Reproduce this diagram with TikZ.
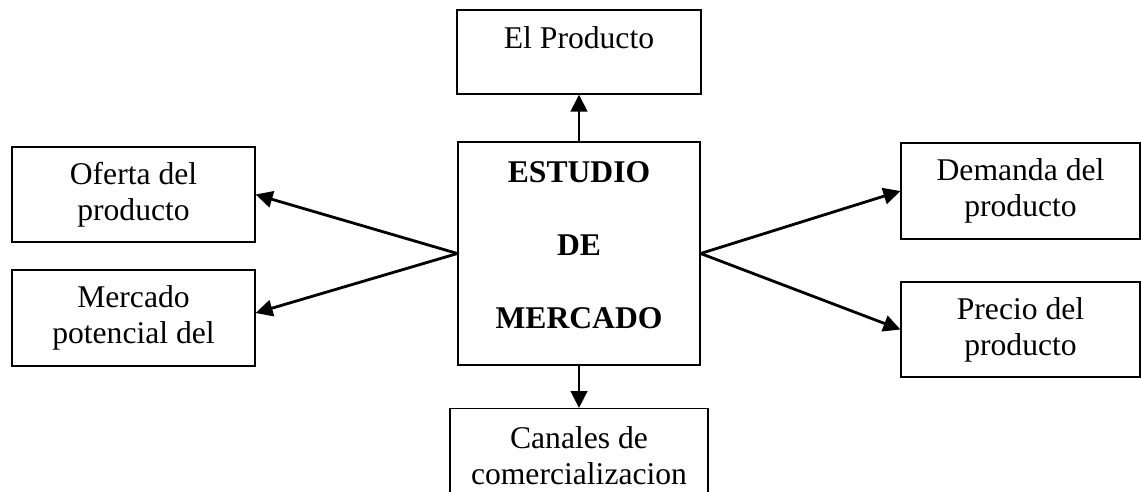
\documentclass[tikz,border=0pt]{standalone}
\usepackage{fontspec}
\setmainfont{Liberation Serif}
\usetikzlibrary{arrows.meta}
\begin{document}
\begin{tikzpicture}[x=0.02cm,y=-0.02cm,
  caja/.style={draw,line width=0.7pt,align=center,inner sep=0pt,
    font=\fontsize{18}{20.5}\selectfont},
  flecha/.style={line width=1.6pt,-{Triangle[length=0.34cm,width=0.33cm]}}]
\useasboundingbox (0,0) rectangle (1141,491);
\clip (0,0) rectangle (1141,491);
\node[caja,minimum width=4.88cm,minimum height=1.68cm,text height=0.42cm,text depth=0.58cm] (prod) at (579,52) {El Producto};
\node[caja,minimum width=4.84cm,minimum height=4.46cm] (est) at (579,253.5) {};
\node[align=center,inner sep=0pt,font=\fontsize{18}{41.5}\selectfont\bfseries] (estt) at ([yshift=0.17cm]est.center) {ESTUDIO\\DE\\MERCADO};
\node[caja,minimum width=4.86cm,minimum height=1.9cm] (ofe) at (133.5,194.5) {Oferta del\\producto};
\node[caja,minimum width=4.86cm,minimum height=1.92cm] (mer) at (133.5,318) {Mercado\\potencial del};
\node[caja,minimum width=4.78cm,minimum height=1.92cm] (dem) at (1020.5,191) {Demanda del\\producto};
\node[caja,minimum width=4.78cm,minimum height=1.9cm] (pre) at (1020.5,329.5) {Precio del\\producto};
\node[caja,minimum width=5.16cm,inner ysep=0.36cm,anchor=north] (can) at (579,408) {Canales de\\comercializacion};
\draw[flecha] (est.north) -- (prod.south);
\draw[flecha] (est.west) -- (ofe.east);
\draw[flecha] (est.west) -- ([yshift=0.1cm]mer.east);
\draw[flecha] (est.east) -- (dem.west);
\draw[flecha] (est.east) -- (pre.west);
\draw[flecha] (est.south) -- (can.north);
\end{tikzpicture}
\end{document}
